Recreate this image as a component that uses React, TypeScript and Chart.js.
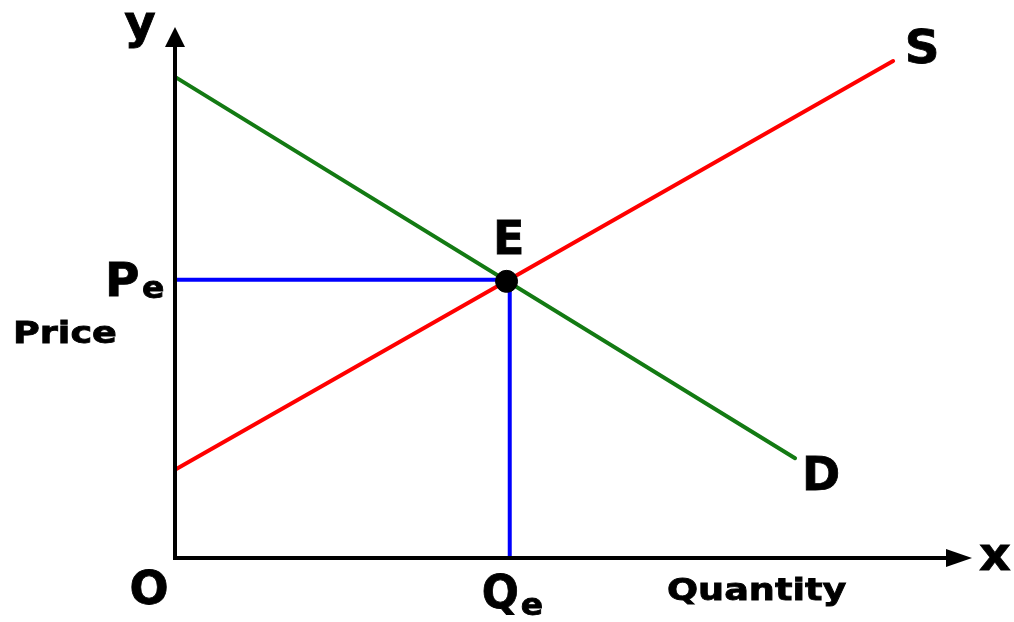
import React, { useEffect, useRef } from "react";
import { Chart, registerables } from "chart.js";

Chart.register(...registerables);

// Data (in axis units: x 0..100, y 0..100)
const demandX = [0, 77.8];
const demandY = [90.6, 18.8];
const supplyX = [0, 90.1];
const supplyY = [16.6, 93.6];
const equilibrium = { q: 42, p: 52.4 };
const axisMax = { x: 100, y: 100 };
const labels = {
  y: "y", x: "x", origin: "O", price: "Price", quantity: "Quantity",
  supply: "S", demand: "D", eq: "E", pe: ["P", "e"], qe: ["Q", "e"],
};

const FONT = '"DejaVu Sans", Verdana, sans-serif';

const annotPlugin = {
  id: "econAnnot",
  afterDatasetsDraw(chart: any) {
    const ctx = chart.ctx as CanvasRenderingContext2D;
    const xs = chart.scales.x;
    const ys = chart.scales.y;
    const x0 = xs.getPixelForValue(0);
    const y0 = ys.getPixelForValue(0);
    const xEnd = xs.getPixelForValue(axisMax.x);
    const yEnd = ys.getPixelForValue(axisMax.y);

    ctx.save();
    ctx.strokeStyle = "#000";
    ctx.fillStyle = "#000";
    ctx.lineWidth = 4;
    ctx.lineCap = "butt";
    ctx.beginPath();
    ctx.moveTo(x0, y0 + 2);
    ctx.lineTo(x0, yEnd + 16);
    ctx.moveTo(x0 - 2, y0);
    ctx.lineTo(xEnd - 20, y0);
    ctx.stroke();
    ctx.beginPath();
    ctx.moveTo(x0, yEnd);
    ctx.lineTo(x0 - 10, yEnd + 20);
    ctx.lineTo(x0 + 10, yEnd + 20);
    ctx.closePath();
    ctx.fill();
    ctx.beginPath();
    ctx.moveTo(xEnd, y0);
    ctx.lineTo(xEnd - 26, y0 - 9);
    ctx.lineTo(xEnd - 26, y0 + 9);
    ctx.closePath();
    ctx.fill();

    const txt = (t: string, x: number, y: number, size: number, stretch: number, align: CanvasTextAlign = "left") => {
      ctx.save();
      ctx.font = `bold ${size}px ${FONT}`;
      ctx.textAlign = align;
      ctx.textBaseline = "alphabetic";
      ctx.translate(x, y);
      ctx.scale(stretch, 1);
      ctx.lineWidth = 0.8;
      ctx.strokeStyle = "#000";
      ctx.fillText(t, 0, 0);
      ctx.strokeText(t, 0, 0);
      ctx.restore();
    };

    const ex = xs.getPixelForValue(equilibrium.q);
    const ey = ys.getPixelForValue(equilibrium.p);
    const sx = xs.getPixelForValue(supplyX[1]);
    const sy = ys.getPixelForValue(supplyY[1]);
    const dx = xs.getPixelForValue(demandX[1]);
    const dy = ys.getPixelForValue(demandY[1]);

    txt(labels.y, x0 - 35, yEnd + 11, 46, 1.05, "center");
    txt(labels.x, xEnd + 23, y0 + 12, 47, 1.05, "center");
    txt(labels.origin, x0 - 26, y0 + 46, 46, 1.0, "center");
    txt(labels.supply, sx + 29, sy + 2, 46, 1.05, "center");
    txt(labels.demand, dx + 26, dy + 32, 46, 1.0, "center");
    txt(labels.eq, ex - 1, ey - 26, 46, 1.0, "center");
    txt(labels.pe[0], x0 - 70, ey + 16, 47, 1.0);
    txt(labels.pe[1], x0 - 33, ey + 18, 30, 1.1);
    txt(labels.price, x0 - 162, ey + 63, 30, 1.22);
    txt(labels.qe[0], ex - 28, y0 + 50, 46, 0.95);
    txt(labels.qe[1], ex + 11, y0 + 57, 30, 1.1);
    txt(labels.quantity, x0 + 492, y0 + 42, 30, 1.22);
    ctx.restore();
  },
};

export default function App() {
  const ref = useRef<HTMLCanvasElement>(null);
  useEffect(() => {
    document.body.style.margin = "0";
    const chart = new Chart(ref.current!, {
      type: "scatter",
      data: {
        datasets: [
          {
            data: [{ x: equilibrium.q - 0.4, y: equilibrium.p - 0.3 }],
            pointRadius: 11, pointBackgroundColor: "#000", pointBorderColor: "#000", clip: false,
          },
          {
            data: [{ x: 0, y: equilibrium.p }, { x: equilibrium.q, y: equilibrium.p }],
            showLine: true, borderColor: "#0000ff", borderWidth: 4, pointRadius: 0, clip: false,
          },
          {
            data: [{ x: equilibrium.q, y: equilibrium.p }, { x: equilibrium.q, y: 0 }],
            showLine: true, borderColor: "#0000ff", borderWidth: 4, pointRadius: 0, clip: false,
          },
          {
            data: demandX.map((x, i) => ({ x, y: demandY[i] })),
            showLine: true, borderColor: "#137a13", borderWidth: 4, pointRadius: 0, clip: false,
            borderCapStyle: "round",
          },
          {
            data: supplyX.map((x, i) => ({ x, y: supplyY[i] })),
            showLine: true, borderColor: "#ff0000", borderWidth: 4, pointRadius: 0, clip: false,
            borderCapStyle: "round",
          },
        ],
      },
      options: {
        animation: false,
        responsive: false,
        layout: { padding: { left: 175, right: 42, top: 27, bottom: 64 } },
        plugins: { legend: { display: false }, tooltip: { enabled: false } },
        scales: {
          x: { type: "linear", min: 0, max: axisMax.x, display: false },
          y: { type: "linear", min: 0, max: axisMax.y, display: false },
        },
      },
      plugins: [annotPlugin],
    } as any);
    return () => chart.destroy();
  }, []);
  return (
    <div style={{ position: "fixed", left: 0, top: 0, width: 1014, height: 622, background: "#fff" }}>
      <canvas ref={ref} width={1014} height={622} style={{ width: 1014, height: 622 }} />
    </div>
  );
}
